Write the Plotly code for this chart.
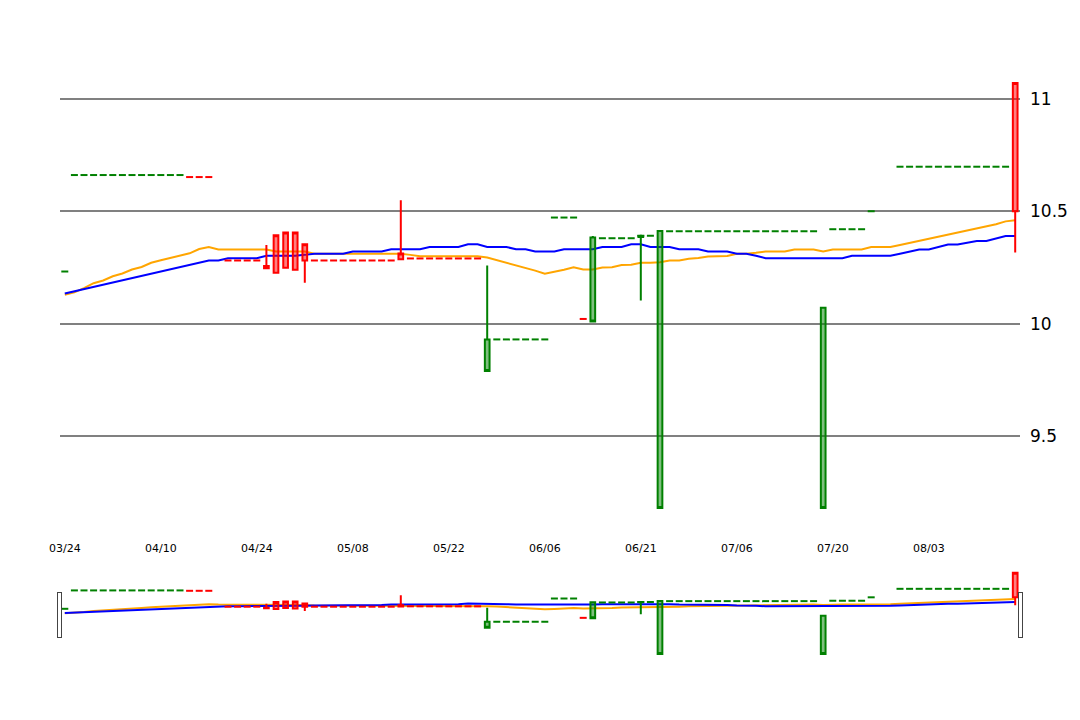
import pandas as pd
import plotly.graph_objects as go

# --- category labels (trading days), ticks every 10th ---
tick_labels = ["03/24", "04/10", "04/24", "05/08", "05/22",
               "06/06", "06/21", "07/06", "07/20", "08/03"]
block_starts = ["2023-03-24", "2023-04-10", "2023-04-24", "2023-05-08", "2023-05-22",
                "2023-06-06", "2023-06-21", "2023-07-06", "2023-07-20", "2023-08-03"]
dates = []
for s in block_starts:
    dates += list(pd.bdate_range(s, periods=10).strftime("%m/%d"))
N = len(dates)

# --- candles (index, open, high, low, close) ---
candle_idx   = [21, 22, 23, 24, 25, 35, 44, 55, 60, 62, 79, 99]
candle_open  = [10.247, 10.227, 10.249, 10.240, 10.281, 10.287, 9.930, 10.383, 10.390, 10.412, 10.071, 10.500]
candle_high  = [10.350, 10.393, 10.405, 10.405, 10.353, 10.549, 10.259, 10.390, 10.395, 10.412, 10.071, 11.070]
candle_low   = [10.245, 10.227, 10.249, 10.240, 10.182, 10.287, 9.790, 10.010, 10.103, 9.180, 9.180, 10.317]
candle_close = [10.256, 10.393, 10.405, 10.405, 10.353, 10.312, 9.790, 10.010, 10.386, 9.180, 9.180, 11.070]

# --- orange line ---
orange_line = [10.129, 10.139, 10.158, 10.180, 10.192, 10.211, 10.223, 10.241, 10.252, 10.271,
               10.282, 10.292, 10.302, 10.313, 10.332, 10.341, 10.330, 10.330, 10.330, 10.330,
               10.330, 10.330, 10.321, 10.321, 10.321, 10.321, 10.311, 10.311, 10.311, 10.311,
               10.311, 10.311, 10.311, 10.311, 10.311, 10.311, 10.306, 10.300, 10.300, 10.300,
               10.300, 10.300, 10.300, 10.300, 10.294, 10.283, 10.272, 10.261, 10.249, 10.236,
               10.222, 10.230, 10.240, 10.251, 10.241, 10.241, 10.250, 10.251, 10.261, 10.262,
               10.271, 10.271, 10.273, 10.281, 10.281, 10.289, 10.292, 10.299, 10.300, 10.301,
               10.311, 10.311, 10.315, 10.321, 10.321, 10.321, 10.330, 10.330, 10.330, 10.321,
               10.330, 10.330, 10.330, 10.330, 10.341, 10.341, 10.341, 10.350, 10.359, 10.368,
               10.378, 10.387, 10.396, 10.405, 10.415, 10.424, 10.433, 10.442, 10.455, 10.460]

# --- blue line ---
blue_line = [10.134, 10.144, 10.154, 10.163, 10.173, 10.183, 10.193, 10.203, 10.212, 10.222,
             10.232, 10.242, 10.252, 10.262, 10.271, 10.281, 10.281, 10.291, 10.291, 10.291,
             10.291, 10.302, 10.302, 10.302, 10.302, 10.306, 10.311, 10.311, 10.311, 10.311,
             10.321, 10.321, 10.321, 10.321, 10.331, 10.331, 10.331, 10.331, 10.341, 10.341,
             10.341, 10.341, 10.353, 10.353, 10.341, 10.341, 10.341, 10.331, 10.331, 10.321,
             10.321, 10.321, 10.331, 10.331, 10.331, 10.331, 10.341, 10.341, 10.341, 10.353,
             10.353, 10.341, 10.341, 10.341, 10.331, 10.331, 10.331, 10.321, 10.321, 10.321,
             10.311, 10.311, 10.302, 10.291, 10.291, 10.291, 10.291, 10.291, 10.291, 10.291,
             10.291, 10.291, 10.302, 10.302, 10.302, 10.302, 10.302, 10.311, 10.321, 10.330,
             10.330, 10.341, 10.352, 10.352, 10.360, 10.368, 10.368, 10.380, 10.390, 10.390]

# --- signal marks (index, value) ---
green_idx = [0] + list(range(1, 13)) + list(range(45, 51)) + [51, 52, 53] + [56, 57, 58, 59] \
    + [60, 61] + list(range(63, 79)) + [80, 81, 82, 83] + [84] + list(range(87, 99))
green_val = [10.232] + [10.661] * 12 + [9.930] * 6 + [10.472] * 3 + [10.380] * 4 \
    + [10.391] * 2 + [10.411] * 16 + [10.420] * 4 + [10.500] + [10.698] * 12
red_idx = [13, 14, 15] + [17, 18, 19, 20] + list(range(26, 35)) + list(range(36, 44)) + [54]
red_val = [10.652] * 3 + [10.281] * 4 + [10.281] * 9 + [10.290] * 8 + [10.021]

y_range = [9.038, 11.137]


def spread(idx, vals):
    out = [None] * N
    for i, v in zip(idx, vals):
        out[i] = v
    return out


o = spread(candle_idx, candle_open)
h = spread(candle_idx, candle_high)
l = spread(candle_idx, candle_low)
c = spread(candle_idx, candle_close)
g_marks = spread(green_idx, green_val)
r_marks = spread(red_idx, red_val)

fig = go.Figure()
fig.add_trace(go.Scatter(x=dates, y=orange_line, mode="lines",
                         line=dict(color="orange", width=2), hoverinfo="skip"))
fig.add_trace(go.Scatter(x=dates, y=blue_line, mode="lines",
                         line=dict(color="blue", width=2), hoverinfo="skip"))
fig.add_trace(go.Scatter(x=dates, y=g_marks, mode="markers",
                         marker=dict(symbol="line-ew", size=5,
                                     line=dict(color="green", width=2))))
fig.add_trace(go.Scatter(x=dates, y=r_marks, mode="markers",
                         marker=dict(symbol="line-ew", size=5,
                                     line=dict(color="red", width=2))))
fig.add_trace(go.Candlestick(x=dates, open=o, high=h, low=l, close=c, yaxis="y2",
                             increasing=dict(line=dict(color="red", width=2)),
                             decreasing=dict(line=dict(color="green", width=2))))

fig.update_layout(
    width=1080, height=720,
    margin=dict(l=52, r=68, t=60, b=68),
    paper_bgcolor="white", plot_bgcolor="white",
    showlegend=False,
    font=dict(family="DejaVu Sans", color="black"),
    yaxis2=dict(overlaying="y", side="right", range=y_range, showgrid=False,
                showticklabels=False, zeroline=False, showline=False),
)
fig.update_xaxes(type="category", categoryorder="array", categoryarray=dates,
                 range=[-0.5, N - 0.5],
                 tickmode="array", tickvals=dates[::10], ticktext=tick_labels,
                 tickfont=dict(size=11), showgrid=False, showline=False, zeroline=False,
                 rangeslider=dict(visible=True, thickness=0.152, range=[-0.5, N - 0.5]))
fig.update_layout(yaxis=dict(side="right", dtick=0.5, tickfont=dict(size=17),
                             range=y_range, ticklabelstandoff=9,
                             showgrid=True, gridcolor="gray", gridwidth=2,
                             zeroline=False, showline=False))

fig.write_html("out.html")
